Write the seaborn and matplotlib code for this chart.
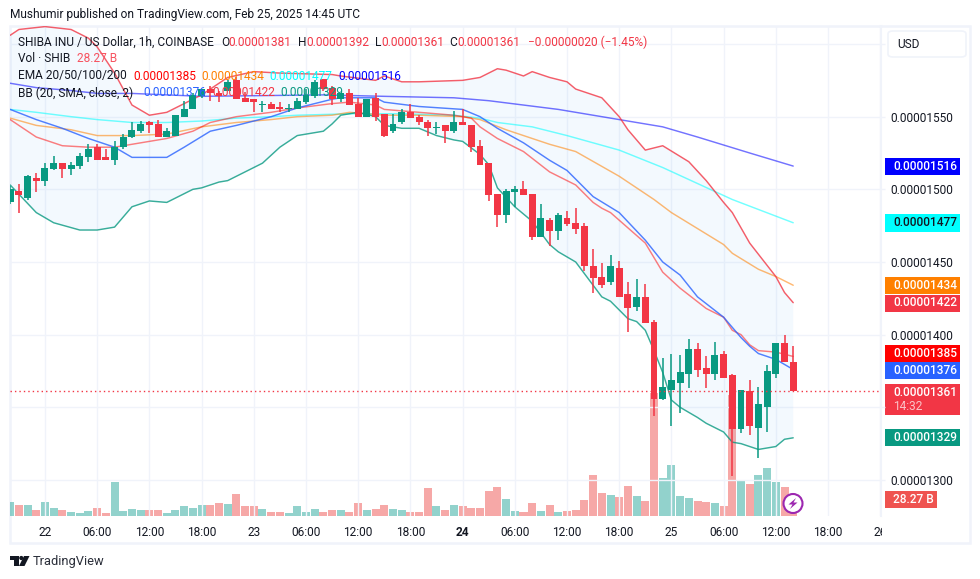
import matplotlib
matplotlib.use("Agg")
import matplotlib.pyplot as plt
import numpy as np
import seaborn as sns
from matplotlib.patches import Circle, FancyBboxPatch, Polygon, Rectangle
from matplotlib.transforms import Bbox, TransformedBbox

# all prices in units of 0.00000001
opens = [1491, 1499, 1494, 1508, 1506, 1514, 1518, 1514, 1516, 1522, 1529, 1522, 1520, 1529, 1536, 1540, 1546, 1545, 1536, 1537,
         1550, 1555, 1564, 1569, 1566, 1568, 1575, 1563, 1562, 1558, 1559, 1557, 1555, 1555, 1560, 1564, 1576, 1570, 1562, 1566,
         1559, 1550, 1563, 1552, 1540, 1546, 1553, 1550, 1546, 1542, 1544, 1540, 1546, 1544, 1530, 1518, 1497, 1482, 1498, 1500,
         1497, 1467, 1479, 1471, 1480, 1477, 1475, 1447, 1440, 1436, 1446, 1428, 1419, 1426, 1409, 1356, 1362, 1367, 1373, 1390,
         1377, 1373, 1387, 1372, 1335, 1361, 1336, 1350, 1373, 1394, 1381]
highs = [1502, 1504, 1510, 1511, 1518, 1523, 1518, 1519, 1525, 1531, 1531, 1528, 1533, 1538, 1546, 1547, 1547, 1548, 1542, 1551,
         1561, 1566, 1569, 1571, 1568, 1575, 1577, 1567, 1562, 1561, 1560, 1560, 1559, 1563, 1569, 1575, 1576, 1571, 1566, 1569,
         1563, 1562, 1566, 1552, 1552, 1555, 1559, 1551, 1548, 1546, 1544, 1554, 1555, 1544, 1534, 1518, 1497, 1500, 1502, 1506,
         1497, 1490, 1480, 1484, 1485, 1487, 1477, 1459, 1449, 1455, 1451, 1436, 1438, 1435, 1410, 1384, 1387, 1386, 1397, 1394,
         1385, 1395, 1389, 1373, 1362, 1369, 1364, 1379, 1394, 1400, 1392]
lows = [1490, 1484, 1493, 1498, 1502, 1513, 1508, 1510, 1514, 1519, 1520, 1520, 1517, 1528, 1535, 1539, 1539, 1536, 1536, 1537,
        1550, 1555, 1563, 1561, 1560, 1568, 1562, 1560, 1553, 1553, 1555, 1553, 1553, 1555, 1559, 1563, 1568, 1558, 1560, 1558,
        1550, 1550, 1547, 1536, 1539, 1545, 1549, 1544, 1537, 1538, 1532, 1539, 1544, 1526, 1517, 1492, 1474, 1477, 1488, 1496,
        1465, 1467, 1461, 1465, 1475, 1469, 1444, 1429, 1432, 1434, 1426, 1402, 1416, 1408, 1344, 1355, 1337, 1346, 1363, 1371,
        1363, 1369, 1370, 1303, 1332, 1331, 1315, 1333, 1370, 1381, 1361]
closes = [1500, 1496, 1509, 1506, 1515, 1518, 1514, 1517, 1523, 1528, 1520, 1520, 1529, 1536, 1541, 1545, 1544, 1536, 1540, 1551,
          1555, 1565, 1569, 1566, 1564, 1574, 1562, 1560, 1560, 1559, 1555, 1555, 1556, 1561, 1565, 1574, 1569, 1562, 1566, 1558,
          1550, 1562, 1550, 1537, 1545, 1553, 1549, 1546, 1542, 1543, 1540, 1546, 1544, 1529, 1517, 1496, 1482, 1499, 1500, 1496,
          1467, 1480, 1471, 1482, 1476, 1473, 1447, 1439, 1434, 1447, 1426, 1418, 1426, 1408, 1356, 1364, 1369, 1374, 1390, 1376,
          1373, 1386, 1370, 1335, 1362, 1337, 1352, 1375, 1394, 1381, 1361]
volumes = [23.3, 18.3, 18.3, 10, 23.3, 13.3, 10, 6.6, 5, 8.3, 13.3, 5, 56.5, 8.3, 11.6, 10, 10, 10, 5, 10,
           16.6, 13.3, 18.3, 18.3, 21.6, 20, 36.6, 16.6, 16.6, 11.6, 6.6, 6.6, 5, 16.6, 6.6, 11.6, 6.6, 10, 10, 6.6,
           21.6, 10, 11.6, 18.3, 11.6, 10, 6.6, 6.6, 46.5, 16.6, 10, 18.3, 16.6, 13.3, 13.3, 41.5, 48.2, 28.3, 8.3, 6.6,
           21.6, 8.3, 18.3, 6.6, 8.3, 10, 26.6, 68.1, 38.2, 34.9, 31.6, 49.9, 33.2, 24.9, 204.5, 63.2, 84.8, 33.2, 29.9, 24.9,
           23.3, 21.6, 16.6, 201, 59.8, 53.2, 68.1, 79.8, 56.5, 48.2, 28.27]

upper_bars = [0, 1, 4, 7, 9, 10, 12, 14, 16, 18, 22, 25, 28, 31, 37, 38, 42, 43, 45, 47, 52, 54, 56, 57, 59, 60, 62, 64, 65, 68,
              70, 71, 73, 75, 78, 80, 82, 83, 85, 88, 89, 90]
upper_vals = [1606, 1610, 1612, 1610, 1604, 1598, 1580, 1558, 1551, 1553, 1565, 1577, 1581, 1580, 1579, 1578, 1575, 1578, 1574,
              1574, 1575, 1577, 1583, 1582, 1578, 1581, 1577, 1574, 1569, 1563, 1550, 1541, 1527, 1530, 1519, 1506, 1491, 1484,
              1463, 1440, 1429, 1422]
lower_bars = [0, 3, 5, 8, 10, 12, 14, 16, 18, 21, 22, 24, 25, 29, 31, 33, 36, 37, 38, 40, 42, 43, 45, 47, 49, 51, 52, 54, 55, 56,
              58, 60, 62, 63, 65, 68, 69, 71, 72, 73, 74, 75, 76, 77, 79, 80, 82, 83, 84, 86, 88, 89, 90]
lower_vals = [1503, 1484, 1477, 1472, 1472, 1474, 1488, 1492, 1491, 1500, 1501, 1505, 1506, 1518, 1529, 1537, 1540, 1545, 1551,
              1553, 1550, 1544, 1542, 1542, 1537, 1534, 1533, 1524, 1517, 1501, 1488, 1478, 1462, 1457, 1450, 1426, 1423, 1411,
              1409, 1403, 1389, 1374, 1355, 1350, 1343, 1339, 1333, 1326, 1325, 1321, 1323, 1328, 1329]
basis_bars = [0, 3, 6, 9, 12, 14, 16, 18, 20, 23, 26, 30, 33, 37, 38, 42, 43, 47, 52, 54, 56, 59, 62, 64, 67, 70, 73, 75, 77, 79,
              82, 83, 84, 85, 86, 88, 90]
basis_vals = [1555, 1548, 1542, 1535, 1529, 1522, 1522, 1522, 1529, 1540, 1544, 1550, 1556, 1562, 1563, 1563, 1560, 1557, 1555,
              1550, 1542, 1532, 1520, 1513, 1495, 1484, 1465, 1450, 1441, 1426, 1412, 1405, 1398, 1392, 1387, 1383, 1376]
ema20_bars = [0, 3, 6, 9, 12, 15, 18, 21, 23, 26, 30, 33, 37, 39, 42, 43, 47, 51, 53, 54, 56, 59, 62, 65, 67, 68, 69, 73, 75, 77,
              80, 82, 83, 84, 85, 86, 88, 90]
ema20_vals = [1548, 1536, 1530, 1529, 1529, 1532, 1535, 1540, 1546, 1550, 1553, 1556, 1559, 1560, 1558, 1555, 1553, 1551, 1549,
              1543, 1535, 1526, 1512, 1503, 1491, 1487, 1484, 1463, 1443, 1432, 1418, 1412, 1403, 1400, 1393, 1389, 1388, 1385]
ema50_bars = [0, 3, 7, 10, 14, 18, 22, 26, 30, 33, 37, 39, 43, 47, 52, 54, 57, 62, 65, 70, 74, 76, 82, 83, 86, 88, 90]
ema50_vals = [1549, 1544, 1541, 1537, 1537, 1538, 1543, 1546, 1548, 1550, 1551, 1553, 1551, 1551, 1550, 1548, 1541, 1531, 1526,
              1509, 1493, 1484, 1462, 1456, 1445, 1440, 1434]
ema100_bars = [0, 3, 7, 10, 14, 18, 22, 26, 30, 33, 39, 45, 51, 54, 56, 60, 64, 70, 75, 79, 83, 90]
ema100_vals = [1555, 1553, 1550, 1548, 1546, 1546, 1547, 1549, 1550, 1551, 1552, 1552, 1551, 1549, 1546, 1543, 1537, 1527, 1515,
               1504, 1493, 1477]
ema200_bars = [0, 3, 7, 10, 14, 18, 22, 36, 43, 51, 55, 63, 70, 75, 79, 85, 90]
ema200_vals = [1573, 1570, 1568, 1566, 1566, 1565, 1564, 1565, 1564, 1563, 1561, 1555, 1548, 1543, 1536, 1525, 1516]

time_bars = list(range(4, 101, 6))
time_labels = ["22", "06:00", "12:00", "18:00", "23", "06:00", "12:00", "18:00", "24", "06:00", "12:00", "18:00",
               "25", "06:00", "12:00", "18:00", "26"]
price_ticks = [1300, 1350, 1400, 1450, 1500, 1550, 1600]
price_labels = ["0.00001300", "", "0.00001400", "0.00001450", "0.00001500", "0.00001550", ""]

UP = "#089981"
DOWN = "#F23645"
INK = "#131722"
GRID = "#F0F3FA"

sns.set_theme(style="white")
plt.rcParams["font.family"] = ["Roboto", "DejaVu Sans"]

W, H = 980, 579
fig = plt.figure(figsize=(W / 100, H / 100), dpi=100, facecolor="white")


def fx(x):
    return x / W


def fy(y):
    return 1 - y / H


def label(x, y, s, color=INK, size=8.6, **kw):
    kw.setdefault("va", "center")
    return fig.text(fx(x), fy(y), s, color=color, fontsize=size, **kw)


def fig_patch(patch):
    patch.set_transform(fig.transFigure)
    fig.add_artist(patch)


def box(x0, y0, x1, y1, color):
    fig_patch(Rectangle((fx(x0), fy(y1)), (x1 - x0) / W, (y1 - y0) / H, facecolor=color, edgecolor="none", zorder=2))


rect = [fx(10), fy(516), (881 - 10) / W, (516 - 26) / H]
ax_vol = fig.add_axes(rect, zorder=1)
ax = fig.add_axes(rect, zorder=2)
ax.patch.set_visible(False)

bars = np.arange(len(closes))
o, h, l, c = map(np.array, (opens, highs, lows, closes))
up = c >= o
direction = np.where(up, "up", "down")

# volume
sns.barplot(x=bars, y=volumes, hue=direction, hue_order=["up", "down"], palette={"up": "#26A69A", "down": "#EF5350"},
            native_scale=True, dodge=False, width=0.92, saturation=1, alpha=0.5, linewidth=0, errorbar=None, legend=False,
            ax=ax_vol)
ax_vol.set_xlim(-0.02, 100.09)
ax_vol.set_ylim(0, 815)
ax_vol.axis("off")

# bollinger band fill, then the lines
ax.fill(upper_bars + lower_bars[::-1], upper_vals + lower_vals[::-1], color="#2196F3", alpha=0.05, lw=0, zorder=1)
for xs, ys, col, a in [
    (ema200_bars, ema200_vals, "#0000FF", 0.55),
    (ema100_bars, ema100_vals, "#00FFFF", 0.55),
    (ema50_bars, ema50_vals, "#FF8000", 0.55),
    (ema20_bars, ema20_vals, "#FF0000", 0.5),
    (basis_bars, basis_vals, "#2962FF", 0.8),
    (upper_bars, upper_vals, "#F23645", 0.8),
    (lower_bars, lower_vals, "#089981", 0.8),
]:
    sns.lineplot(x=xs, y=ys, color=col, alpha=a, lw=1.05, errorbar=None, ax=ax, zorder=2)

# candles
candle_colors = np.where(up, UP, DOWN)
ax.vlines(bars, l, h, colors=candle_colors, lw=1.1, zorder=3)
ax.bar(bars, np.maximum(np.abs(c - o), 0.7), bottom=np.minimum(o, c), width=0.8, color=candle_colors, linewidth=0, zorder=4)

ax.axhline(closes[-1], color=DOWN, lw=1, ls=(0, (1, 2.2)), zorder=5)

ax.set_xlim(-0.02, 100.09)
ax.set_ylim(1275.2, 1612.4)
ax.set_xlabel("")
ax.set_ylabel("")
ax.set_xticks(time_bars, time_labels)
ax.set_yticks(price_ticks, price_labels)
ax.yaxis.tick_right()
ax.grid(True, color=GRID, lw=1)
ax.set_axisbelow(True)
ax.tick_params(axis="x", length=0, pad=7, labelsize=8.6, labelcolor=INK)
ax.tick_params(axis="y", length=3, width=1, color=GRID, pad=4, labelsize=8.6, labelcolor=INK)
for side in ("top", "left", "bottom"):
    ax.spines[side].set_visible(False)
ax.spines["right"].set_color(GRID)
ax.spines["right"].set_linewidth(1.5)

clip = TransformedBbox(Bbox([[0, 0], [fx(882), 1]]), fig.transFigure)
for tick_text, name in zip(ax.get_xticklabels(), time_labels):
    tick_text.set_clip_on(True)
    tick_text.set_clip_box(clip)
    if name == "24":
        tick_text.set_fontweight("bold")

# pane frame
fig_patch(Rectangle((fx(10), fy(543)), (970 - 10) / W, (543 - 26) / H, facecolor="none", edgecolor=GRID, lw=1.8, zorder=1))

# header and indicator legend
label(10, 14.5, "Mushumir published on TradingView.com, Feb 25, 2025 14:45 UTC")
label(18, 42, "SHIBA INU / US Dollar, 1h, COINBASE")
for x, s, col in [(221, "O", INK), (228, "0.00001381", DOWN), (298, "H", INK), (306, "0.00001392", DOWN),
                  (375, "L", INK), (381, "0.00001361", DOWN), (449, "C", INK), (457, "0.00001361", DOWN),
                  (528, "\u22120.00000020 (\u22121.45%)", DOWN)]:
    label(x, 42, s, col)
label(18, 59, "Vol \u00b7 SHIB")
label(77, 59, "28.27 B", "#F7525F")
label(18, 76, "EMA 20/50/100/200")
for x, s, col in [(133, "0.00001385", "#FF0000"), (201, "0.00001434", "#FF8000"), (269, "0.00001477", "#00FFFF"),
                  (338, "0.00001516", "#0000FF")]:
    label(x, 76, s, col)
label(18, 93, "BB (20, SMA, close, 2)")
for x, s, col in [(143, "0.00001376", "#2962FF"), (212, "0.00001422", DOWN), (280, "0.00001329", UP)]:
    label(x, 93, s, col)

# price scale badges
for yc, s, bg, fg in [(166.5, "0.00001516", "#0000FF", "white"), (223, "0.00001477", "#00FFFF", INK),
                      (285.5, "0.00001434", "#FF8000", "white"), (303, "0.00001422", DOWN, "white"),
                      (353.5, "0.00001385", "#FF0000", "white"), (370.5, "0.00001376", "#2962FF", "white"),
                      (437.5, "0.00001329", UP, "white")]:
    box(885, yc - 8.5, 960, yc + 8.5, bg)
    label(893, yc, s, fg, fontweight="medium", zorder=3)
box(885, 384, 960, 415, DOWN)
label(893, 392, "0.00001361", "white", fontweight="medium", zorder=3)
label(893, 406.5, "14:32", "#FBC4C8", zorder=3)
box(885, 491, 937, 508, "#EF5350")
label(893, 499.5, "28.27 B", "white", fontweight="medium", zorder=3)

# currency button
fig_patch(FancyBboxPatch((fx(888), fy(57)), (966 - 888) / W, (57 - 31) / H, boxstyle="round,pad=0,rounding_size=0.005",
                         facecolor="white", edgecolor=GRID, lw=1.2, zorder=2))
label(897, 44.5, "USD", zorder=3)

# lightning button
fig.add_artist(Circle((793, H - 503.5), 9.5, transform=None, facecolor="white", edgecolor="#9C27B0", lw=1.5, zorder=3))
fig_patch(Polygon([(fx(796), fy(498)), (fx(788.5), fy(504.5)), (fx(792.5), fy(504.5)), (fx(790), fy(509)),
                   (fx(797.5), fy(502.5)), (fx(793.5), fy(502.5))], facecolor="#9C27B0", edgecolor="none", zorder=4))

# tradingview logo
fig_patch(Polygon([(fx(10), fy(556)), (fx(18.5), fy(556)), (fx(18.5), fy(566)), (fx(14), fy(566)), (fx(14), fy(560)),
                   (fx(10), fy(560))], facecolor=INK, edgecolor="none", zorder=3))
fig_patch(Polygon([(fx(24), fy(556)), (fx(29.5), fy(556)), (fx(24.5), fy(566)), (fx(19), fy(566))], facecolor=INK,
                  edgecolor="none", zorder=3))
fig.add_artist(Circle((21.3, H - 558), 2.1, transform=None, facecolor=INK, edgecolor="none", zorder=3))
label(33, 561.5, "TradingView", "#2A2E39", size=9.3)

fig.savefig("out.png", dpi=100)
